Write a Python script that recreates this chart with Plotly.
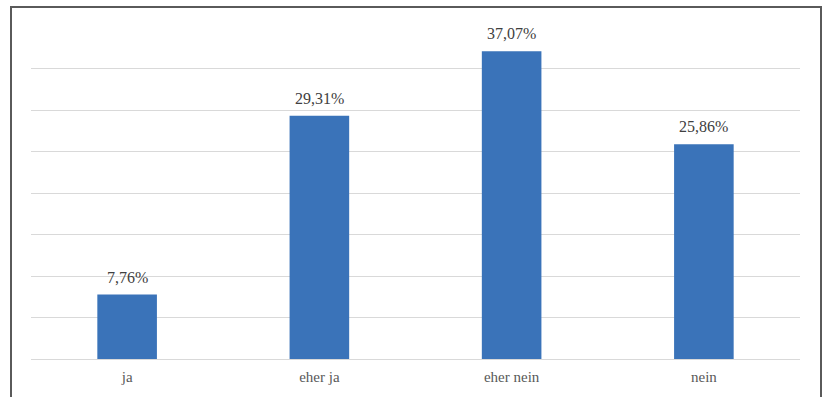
import plotly.graph_objects as go

categories = ["ja", "eher ja", "eher nein", "nein"]
values = [7.76, 29.31, 37.07, 25.86]
labels = ["7,76%", "29,31%", "37,07%", "25,86%"]

W, H = 824, 397
L, R, T, B = 31, 24, 27, 38
plot_w = W - L - R
plot_h = H - T - B


def px_x(px):
    return (px - L) / plot_w


def px_y(py):
    return (H - B - py) / plot_h


fig = go.Figure(
    go.Bar(
        x=categories,
        y=values,
        marker=dict(color="#3a73b9", line=dict(width=0)),
        hoverinfo="x+y",
    )
)

# value labels above each bar
for cat, val, lab in zip(categories, values, labels):
    fig.add_annotation(
        x=cat,
        y=val,
        text=lab,
        showarrow=False,
        yanchor="bottom",
        yshift=7,
        font=dict(family="Liberation Serif", size=16, color="#404040"),
    )

fig.update_layout(
    width=W,
    height=H,
    margin=dict(l=L, r=R, t=T, b=B),
    paper_bgcolor="white",
    plot_bgcolor="white",
    bargap=0.69,
    showlegend=False,
    font=dict(family="Liberation Serif", size=15, color="#595959"),
    shapes=[
        dict(
            type="rect",
            xref="paper",
            yref="paper",
            x0=px_x(11),
            x1=px_x(821),
            y0=px_y(420),
            y1=px_y(7),
            line=dict(color="#5a5a5a", width=2),
            fillcolor="rgba(0,0,0,0)",
            layer="below",
        )
    ],
)

fig.update_xaxes(
    showgrid=False,
    showline=True,
    linecolor="#d9d9d9",
    linewidth=1,
    ticks="",
    ticklabelstandoff=4,
    tickfont=dict(family="Liberation Serif", size=15, color="#595959"),
)
fig.update_yaxes(
    range=[0, 40],
    dtick=5,
    showticklabels=False,
    showgrid=True,
    gridcolor="#d9d9d9",
    gridwidth=1,
    zeroline=True,
    zerolinecolor="#d9d9d9",
    zerolinewidth=1,
)

fig.write_html("out.html")
